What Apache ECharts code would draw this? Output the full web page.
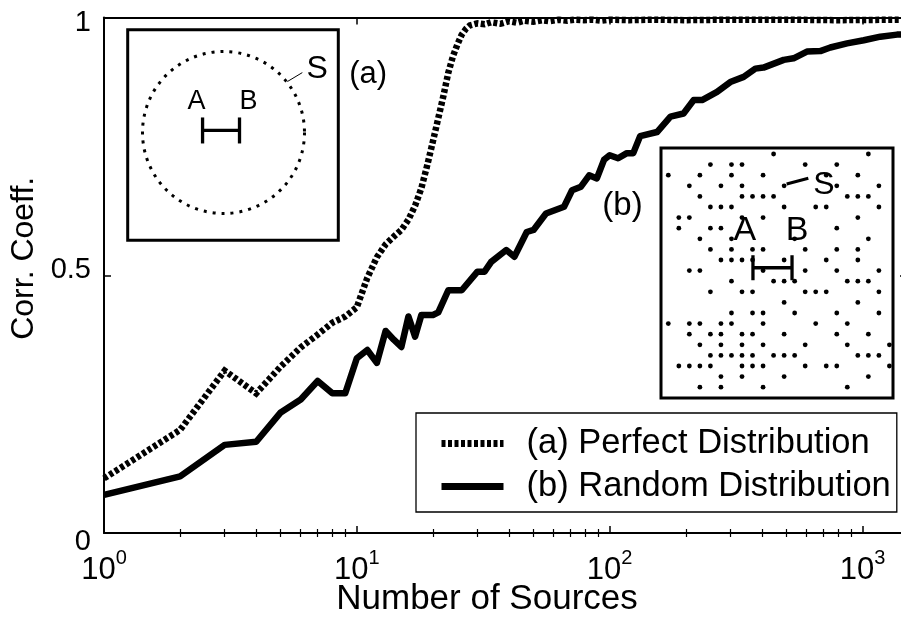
<!DOCTYPE html>
<html><head><meta charset="utf-8">
<script src="https://cdn.jsdelivr.net/npm/echarts@6/dist/echarts.min.js"></script>
<style>html,body{margin:0;padding:0;background:#fff}#c{width:901px;height:619px}</style>
</head><body><div id="c"></div>
<script>
// ---------- main chart data ----------
const nPerfect = [1,2,3,4,5,6,7,8,9,10,11,12,13,14,15,16,17,18,19,20,21,22,23,24,25,26,27,28,30,32,34,37,40,43,46,50,54,58,63,68,73,79,86,93,100,120,150,200,300,500,800,1500];
const corrPerfect = [0.106,0.200,0.315,0.271,0.323,0.360,0.385,0.408,0.420,0.438,0.495,0.535,0.560,0.575,0.588,0.608,0.635,0.669,0.714,0.760,0.805,0.848,0.893,0.925,0.948,0.967,0.978,0.985,0.989,0.987,0.991,0.988,0.993,0.990,0.994,0.992,0.995,0.993,0.996,0.994,0.996,0.995,0.996,0.994,0.996,0.995,0.996,0.995,0.996,0.996,0.995,0.996];
const nRandom = [1,2,3,4,5,6,7,8,9,10,11,12,13,14,15,16,17,18,20,21,23,26,30,32,34,39,42,47,50,56,66,71,77,83,89,95,100,108,117,124,132,154,174,196,215,232,266,300,339,377,406,488,534,603,681,746,869,1012,1177,1370,1500];
const corrRandom = [0.074,0.110,0.171,0.177,0.234,0.259,0.295,0.271,0.271,0.339,0.355,0.330,0.392,0.375,0.361,0.420,0.381,0.423,0.423,0.428,0.471,0.471,0.507,0.507,0.526,0.549,0.536,0.584,0.588,0.620,0.633,0.665,0.672,0.694,0.688,0.724,0.733,0.727,0.737,0.737,0.770,0.778,0.808,0.814,0.840,0.840,0.856,0.875,0.885,0.901,0.903,0.918,0.921,0.934,0.935,0.942,0.950,0.956,0.963,0.967,0.968];
const seriesNames = ['(a) Perfect Distribution', '(b) Random Distribution'];

// ---------- tick labels ----------
const xTickValues = [1, 10, 100, 1000];
const xTickExponents = ['0', '1', '2', '3'];
const xMinorTicks = [2,3,4,5,6,7,8,9,20,30,40,50,60,70,80,90,200,300,400,500,600,700,800,900];
const yTickValues = [0, 0.5, 1];
const yTickLabels = ['0', '0.5', '1'];
const xTitle = 'Number of Sources';
const yTitle = 'Corr. Coeff.';

// ---------- inset (a): perfect distribution (circle of sources) ----------
const insetACircleCenter = [[0, 0]];
const insetABar = [[-0.259, 0.025], [0.198, 0.025]];
const insetALeader = [[0.79, 0.63], [0.975, 0.741]];
const insetATexts = ['A', 'B', 'S', '(a)'];
const insetATextPos = [[-0.333, 0.377], [0.309, 0.377], [1.16, 0.781], [1.79, 0.716]];
const insetATextSize = [27, 27, 32, 31];

// ---------- inset (b): random distribution (dots on lattice; rows of column indices) ----------
const insetBRows = [
  [10,19],
  [4,6,7,13,16],
  [0,3,6,9,15,18],
  [2,5,7,11,16,20],
  [3,7,8,9,10,17,18,19],
  [4,5,6,11,14,15,20],
  [1,2,7,9,18],
  [1,4,5,16],
  [3,6,12,19],
  [4,6,8,9,13,16,18],
  [5,6,7,8,11,15,18],
  [2,3,9,13,16,20],
  [6,10,11,12,17,18,19],
  [4,7,8,13,14,15,20],
  [11,18],
  [6,8,9,12,16,20],
  [0,2,3,5,6,9,14,17],
  [2,4,5,7,8,11,16,19],
  [3,5,7,9,13,17,21],
  [4,5,6,7,8,10,11,12,18,19,20],
  [1,2,3,4,7,8,9,13,15,16,21],
  [5,7,11,19],
  [3,5,9,17]
];
const insetBBar = [[8.04, 10.73], [11.75, 10.73]];
const insetBLeader = [[11.24, 2.83], [13.3, 2.29]];
const insetBTexts = ['A', 'B', 'S', '(b)'];
const insetBTextPos = [[7.28, 7.22], [12.22, 7.22], [14.79, 2.92], [-4.35, 4.91]];
const insetBTextSize = [34, 34, 32, 33];

// ---------- build ----------
const FONT = 'Liberation Sans, Arial, Helvetica, sans-serif';
const zip = (a, b) => a.map((v, i) => [v, b[i]]);
const insetBDots = [];
insetBRows.forEach((cols, r) => cols.forEach(c => insetBDots.push([c, r])));
const textItems = (names, pos, sizes) => names.map((n, i) => ({
  name: n, value: pos[i],
  label: { fontSize: sizes[i] }
}));

const chart = echarts.init(document.getElementById('c'), null, { renderer: 'canvas' });
const blackLine = { color: '#000' };

const option = {
  animation: false,
  backgroundColor: '#fff',
  textStyle: { fontFamily: FONT, color: '#000' },
  grid: [
    { left: 104, top: 17.6, right: -6, bottom: 86, show: false, containLabel: false, outerBoundsMode: 'none' },
    { left: 127.7, top: 29.7, width: 210.6, height: 210.5, show: true, borderColor: '#000', borderWidth: 3, backgroundColor: 'transparent', outerBoundsMode: 'none' },
    { left: 661, top: 148, width: 232, height: 250, show: true, borderColor: '#000', borderWidth: 3, backgroundColor: 'transparent', outerBoundsMode: 'none' }
  ],
  legend: {
    data: seriesNames,
    orient: 'vertical',
    left: 416, top: 413,
    itemWidth: 62, itemHeight: 14, itemGap: 8,
    padding: [13, 6, 8, 22],
    backgroundColor: '#fff',
    borderColor: '#000', borderWidth: 1.3, borderRadius: 0,
    selectedMode: false,
    itemStyle: { opacity: 0, borderWidth: 0 },
    lineStyle: { width: 7, type: 'inherit', color: '#000' },
    textStyle: { fontFamily: FONT, fontSize: 34.5, color: '#000', lineHeight: 30, padding: [0, 0, 0, 18] }
  },
  xAxis: [
    {
      gridIndex: 0, type: 'log', logBase: 10, min: 1, max: 1500, position: 'bottom',
      axisLine: { onZero: false, lineStyle: { color: '#000', width: 2 } },
      axisTick: { inside: true, length: 7, lineStyle: { color: '#000', width: 1.5 } },
      splitLine: { show: false },
      axisLabel: {
        margin: 15, showMaxLabel: false, color: '#000',
        formatter: v => {
          const i = xTickValues.findIndex(t => Math.abs(t - v) / t < 1e-6);
          return i < 0 ? '' : '{b|10}{s|' + xTickExponents[i] + '}';
        },
        rich: {
          b: { fontFamily: FONT, fontSize: 31, color: '#000' },
          s: { fontFamily: FONT, fontSize: 20, color: '#000', padding: [0, 0, 24, 0] }
        }
      },
      name: xTitle, nameLocation: 'middle', nameGap: 49, nameMoveOverlap: false,
      nameTextStyle: { fontFamily: FONT, fontSize: 35, color: '#000', padding: [0, 37, 0, 0] }
    },
    {
      gridIndex: 0, type: 'log', logBase: 10, min: 1, max: 1500, position: 'top',
      axisLine: { onZero: false, lineStyle: { color: '#000', width: 2 } },
      axisTick: { inside: true, length: 7, lineStyle: { color: '#000', width: 1.5 } },
      axisLabel: { show: false }, splitLine: { show: false }
    },
    {
      gridIndex: 0, type: 'log', logBase: 10, min: 1, max: 1500, position: 'bottom',
      axisLine: { show: false },
      axisTick: { inside: true, length: 4, customValues: xMinorTicks, lineStyle: { color: '#000', width: 1.2 } },
      axisLabel: { show: false }, splitLine: { show: false }
    },
    {
      gridIndex: 0, type: 'log', logBase: 10, min: 1, max: 1500, position: 'top',
      axisLine: { show: false },
      axisTick: { inside: true, length: 4, customValues: xMinorTicks, lineStyle: { color: '#000', width: 1.2 } },
      axisLabel: { show: false }, splitLine: { show: false }
    },
    { gridIndex: 1, type: 'value', min: -1.185, max: 1.42, show: false },
    { gridIndex: 2, type: 'value', min: -0.693, max: 21.34, show: false }
  ],
  yAxis: [
    {
      gridIndex: 0, type: 'value', min: 0, max: 1, interval: 0.5, position: 'left',
      axisLine: { show: true, onZero: false, lineStyle: { color: '#000', width: 2 } },
      axisTick: { show: true, inside: true, length: 7, lineStyle: { color: '#000', width: 1.5 } },
      splitLine: { show: false },
      axisLabel: {
        margin: 13, color: '#000',
        formatter: v => {
          const i = yTickValues.findIndex(t => Math.abs(t - v) < 1e-9);
          return i < 0 ? '' : '{y' + i + '|' + yTickLabels[i] + '}';
        },
        rich: {
          y0: { fontFamily: FONT, fontSize: 29, color: '#000', padding: [18, 0, 0, 0] },
          y1: { fontFamily: FONT, fontSize: 29, color: '#000', padding: [0, 0, 10, 0] },
          y2: { fontFamily: FONT, fontSize: 29, color: '#000', padding: [11, 0, 0, 0] }
        }
      },
      name: yTitle, nameLocation: 'middle', nameGap: 57,
      nameTextStyle: { fontFamily: FONT, fontSize: 32, color: '#000', padding: [0, 0, 0, 34] }
    },
    {
      gridIndex: 0, type: 'value', min: 0, max: 1, interval: 0.5, position: 'right',
      axisLine: { show: true, onZero: false, lineStyle: { color: '#000', width: 2 } },
      axisTick: { show: true, inside: true, length: 7, lineStyle: { color: '#000', width: 1.5 } },
      axisLabel: { show: false }, splitLine: { show: false }
    },
    { gridIndex: 1, type: 'value', min: -1.333, max: 1.272, show: false },
    { gridIndex: 2, type: 'value', min: -0.566, max: 23.02, inverse: true, show: false }
  ],
  series: [
    {
      name: seriesNames[0], type: 'line', xAxisIndex: 0, yAxisIndex: 0,
      data: zip(nPerfect, corrPerfect), symbol: 'none', z: 3,
      lineStyle: { color: '#000', width: 6.5, type: [4, 2.5], cap: 'butt', join: 'miter' },
      itemStyle: blackLine
    },
    {
      name: seriesNames[1], type: 'line', xAxisIndex: 0, yAxisIndex: 0,
      data: zip(nRandom, corrRandom), symbol: 'none', z: 3,
      lineStyle: { color: '#000', width: 6.5, type: 'solid', cap: 'butt', join: 'round' },
      itemStyle: blackLine
    },
    // inset (a)
    {
      type: 'scatter', xAxisIndex: 4, yAxisIndex: 2, data: insetACircleCenter, silent: true,
      symbol: 'circle', symbolSize: 162,
      itemStyle: { color: 'rgba(0,0,0,0)', opacity: 1, borderColor: '#000', borderWidth: 3, borderType: [3, 6] }
    },
    {
      type: 'line', xAxisIndex: 4, yAxisIndex: 2, data: insetABar, silent: true,
      symbol: 'rect', symbolSize: [3.3, 26], showSymbol: true,
      lineStyle: { color: '#000', width: 3.3 }, itemStyle: { color: '#000', opacity: 1 }
    },
    {
      type: 'line', xAxisIndex: 4, yAxisIndex: 2, data: insetALeader, silent: true,
      symbol: 'none', lineStyle: { color: '#000', width: 1 }
    },
    {
      type: 'scatter', xAxisIndex: 4, yAxisIndex: 2, silent: true, clip: false,
      data: textItems(insetATexts, insetATextPos, insetATextSize), symbolSize: 0,
      itemStyle: { opacity: 1, color: '#000' },
      label: { show: true, position: 'inside', formatter: '{b}', color: '#000', opacity: 1, fontFamily: FONT }
    },
    // inset (b)
    {
      type: 'scatter', xAxisIndex: 5, yAxisIndex: 3, data: insetBDots, silent: true,
      symbol: 'circle', symbolSize: 4.8, itemStyle: { color: '#000', opacity: 1 }
    },
    {
      type: 'line', xAxisIndex: 5, yAxisIndex: 3, data: insetBBar, silent: true,
      symbol: 'rect', symbolSize: [3.3, 25], showSymbol: true,
      lineStyle: { color: '#000', width: 3.3 }, itemStyle: { color: '#000', opacity: 1 }
    },
    {
      type: 'line', xAxisIndex: 5, yAxisIndex: 3, data: insetBLeader, silent: true,
      symbol: 'none', lineStyle: { color: '#000', width: 3 }
    },
    {
      type: 'scatter', xAxisIndex: 5, yAxisIndex: 3, silent: true, clip: false,
      data: textItems(insetBTexts, insetBTextPos, insetBTextSize), symbolSize: 0,
      itemStyle: { opacity: 1, color: '#000' },
      label: { show: true, position: 'inside', formatter: '{b}', color: '#000', opacity: 1, fontFamily: FONT }
    }
  ]
};
chart.setOption(option);
</script>
</body></html>
